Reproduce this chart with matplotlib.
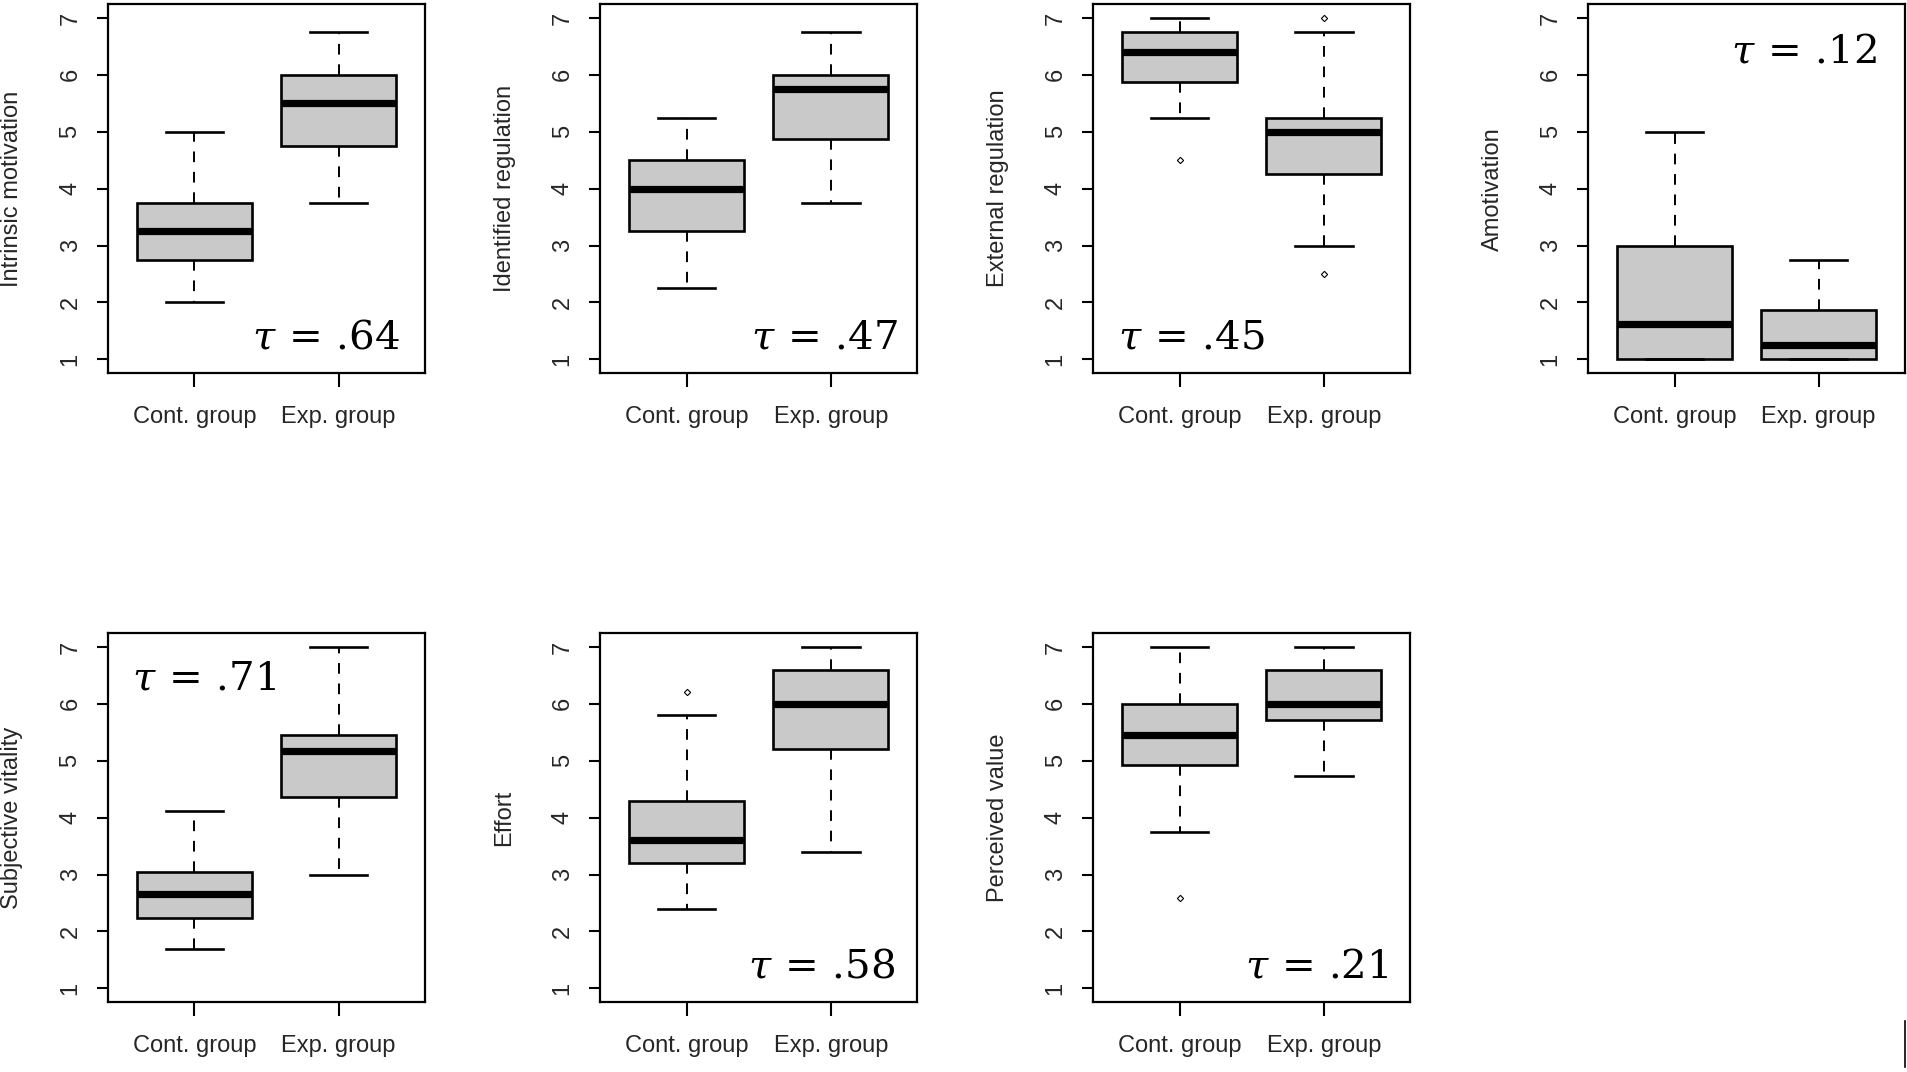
import matplotlib
matplotlib.use("Agg")
import matplotlib.pyplot as plt
from matplotlib.lines import Line2D

plt.rcParams["font.family"] = ["Liberation Sans", "DejaVu Sans"]
plt.rcParams["mathtext.fontset"] = "dejavuserif"

# scale names and Kendall tau per panel
names = ["Intrinsic motivation", "Identified regulation", "External regulation",
         "Amotivation", "Subjective vitality", "Effort", "Perceived value"]
taus = [".64", ".47", ".45", ".12", ".71", ".58", ".21"]
groups = ["Cont. group", "Exp. group"]

# control group five-number summaries
cont_low = [2.0, 2.25, 5.25, 1.0, 1.7, 2.4, 3.75]
cont_q1 = [2.75, 3.25, 5.875, 1.0, 2.23, 3.2, 4.93]
cont_med = [3.25, 4.0, 6.4, 1.625, 2.65, 3.6, 5.45]
cont_q3 = [3.75, 4.5, 6.75, 3.0, 3.05, 4.3, 6.0]
cont_high = [5.0, 5.25, 7.0, 5.0, 4.12, 5.8, 7.0]
cont_out = [[], [], [4.5], [], [], [6.2], [2.58]]

# experimental group
exp_low = [3.75, 3.75, 3.0, 1.0, 3.0, 3.4, 4.73]
exp_q1 = [4.75, 4.875, 4.25, 1.0, 4.37, 5.2, 5.72]
exp_med = [5.5, 5.75, 5.0, 1.25, 5.17, 6.0, 6.0]
exp_q3 = [6.0, 6.0, 5.25, 1.875, 5.46, 6.6, 6.6]
exp_high = [6.75, 6.75, 6.75, 2.75, 7.0, 7.0, 7.0]
exp_out = [[], [], [7.0, 2.5], [], [], [], []]

# where the tau label sits inside each panel (axes fraction, alignment)
tau_place = [(0.92, 0.065, "right"), (0.94, 0.065, "right"), (0.08, 0.065, "left"),
             (0.91, 0.84, "right"), (0.075, 0.845, "left"), (0.93, 0.063, "right"),
             (0.93, 0.063, "right")]

col_x = [0.0566, 0.3145, 0.5729, 0.8323]
row_y = [0.652, 0.0653]
ax_w, ax_h = 0.1662, 0.344

fig = plt.figure(figsize=(19.08, 10.72), dpi=100)
txt_col = "#262626"

for i, name in enumerate(names):
    r, c = divmod(i, 4)
    ax = fig.add_axes([col_x[c], row_y[r], ax_w, ax_h])
    stats = [
        {"whislo": cont_low[i], "q1": cont_q1[i], "med": cont_med[i],
         "q3": cont_q3[i], "whishi": cont_high[i], "fliers": cont_out[i]},
        {"whislo": exp_low[i], "q1": exp_q1[i], "med": exp_med[i],
         "q3": exp_q3[i], "whishi": exp_high[i], "fliers": exp_out[i]},
    ]
    ax.bxp(stats, positions=[1, 2], widths=0.8, patch_artist=True,
           boxprops=dict(facecolor="#c9c9c9", edgecolor="black", linewidth=1.9),
           medianprops=dict(color="black", linewidth=5.2, solid_capstyle="butt"),
           whiskerprops=dict(color="black", linewidth=1.4, linestyle=(0, (5.5, 5))),
           capprops=dict(color="black", linewidth=1.9),
           capwidths=0.4,
           flierprops=dict(marker="D", markersize=3.2, markerfacecolor="none",
                           markeredgecolor="black", markeredgewidth=0.8))
    ax.set_xlim(0.4, 2.6)
    ax.set_ylim(0.76, 7.24)
    ax.set_yticks(range(1, 8))
    ax.set_xticks([1, 2])
    ax.set_xticklabels(groups)
    for sp in ax.spines.values():
        sp.set_linewidth(1.6)
    ax.tick_params(axis="y", length=8, width=1.5, pad=11, labelsize=17,
                   labelrotation=90, labelcolor=txt_col)
    ax.tick_params(axis="x", length=10, width=1.5, pad=14, labelsize=17,
                   labelcolor=txt_col)
    for lab in ax.get_yticklabels():
        lab.set_va("center")
    ax.set_ylabel(name, fontsize=17, color=txt_col, labelpad=26)

    tx, ty, ha = tau_place[i]
    ax.text(tx, ty, r"$\tau\,=\,$" + taus[i], transform=ax.transAxes,
            ha=ha, va="baseline", fontsize=29, family="DejaVu Serif")

# small stray rule in the lower right corner of the source image
fig.add_artist(Line2D([0.9985, 0.9985], [0.005, 0.048], color="black", linewidth=1.2))

fig.savefig("out.png", dpi=100)
